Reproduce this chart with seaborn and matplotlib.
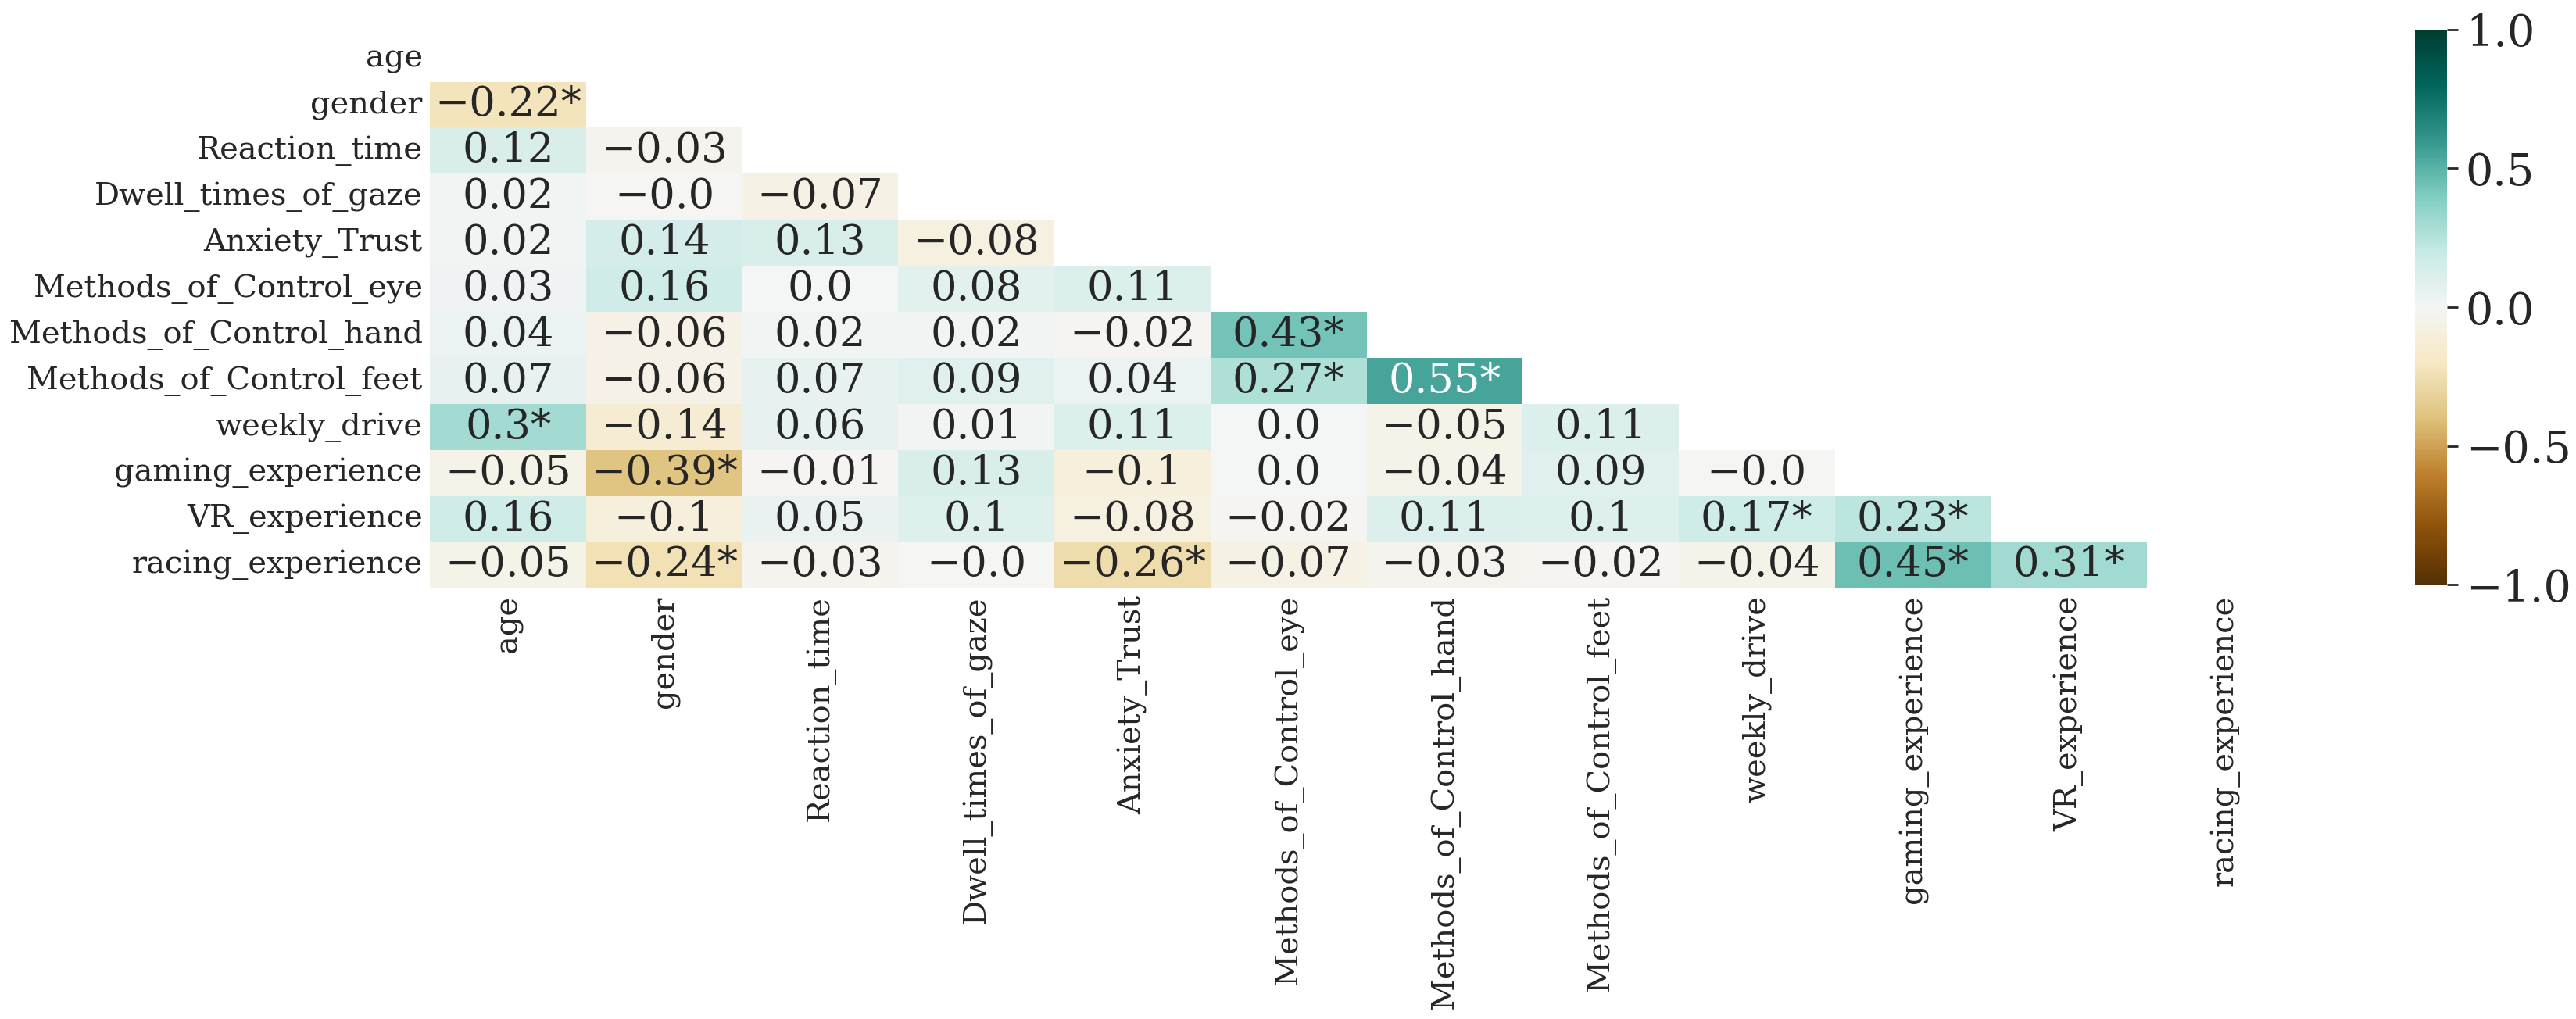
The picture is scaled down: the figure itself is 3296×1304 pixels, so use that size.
import numpy as np
import pandas as pd
import matplotlib
matplotlib.use("Agg")
import matplotlib.pyplot as plt
import seaborn as sns

variables = ["age", "gender", "Reaction_time", "Dwell_times_of_gaze", "Anxiety_Trust",
             "Methods_of_Control_eye", "Methods_of_Control_hand", "Methods_of_Control_feet",
             "weekly_drive", "gaming_experience", "VR_experience", "racing_experience"]

# lower-triangle correlations, row by row (row i has i values)
r_gender = [-0.22]
r_reaction = [0.12, -0.03]
r_dwell = [0.02, -0.001, -0.07]
r_anxiety = [0.02, 0.14, 0.13, -0.08]
r_eye = [0.03, 0.16, 0.0, 0.08, 0.11]
r_hand = [0.04, -0.06, 0.02, 0.02, -0.02, 0.43]
r_feet = [0.07, -0.06, 0.07, 0.09, 0.04, 0.27, 0.55]
r_weekly = [0.3, -0.14, 0.06, 0.01, 0.11, 0.0, -0.05, 0.11]
r_gaming = [-0.05, -0.39, -0.01, 0.13, -0.1, 0.0, -0.04, 0.09, -0.001]
r_vr = [0.16, -0.1, 0.05, 0.1, -0.08, -0.02, 0.11, 0.1, 0.17, 0.23]
r_racing = [-0.05, -0.24, -0.03, -0.001, -0.26, -0.07, -0.03, -0.02, -0.04, 0.45, 0.31]

# significance flags (1 = marked with *)
s_gender = [1]
s_reaction = [0, 0]
s_dwell = [0, 0, 0]
s_anxiety = [0, 0, 0, 0]
s_eye = [0, 0, 0, 0, 0]
s_hand = [0, 0, 0, 0, 0, 1]
s_feet = [0, 0, 0, 0, 0, 1, 1]
s_weekly = [1, 0, 0, 0, 0, 0, 0, 0]
s_gaming = [0, 1, 0, 0, 0, 0, 0, 0, 0]
s_vr = [0, 0, 0, 0, 0, 0, 0, 0, 1, 1]
s_racing = [0, 1, 0, 0, 1, 0, 0, 0, 0, 1, 1]

rows = [[], r_gender, r_reaction, r_dwell, r_anxiety, r_eye, r_hand, r_feet,
        r_weekly, r_gaming, r_vr, r_racing]
sigs = [[], s_gender, s_reaction, s_dwell, s_anxiety, s_eye, s_hand, s_feet,
        s_weekly, s_gaming, s_vr, s_racing]

n = len(variables)
M = np.eye(n)
L = np.full((n, n), "", dtype=object)
for i in range(n):
    for j, v in enumerate(rows[i]):
        M[i, j] = v
        M[j, i] = v
        txt = str(round(v, 2)) if abs(v) >= 0.005 else ("-0.0" if v < 0 else "0.0")
        txt = txt.replace("-", "\u2212")
        if sigs[i][j]:
            txt += "*"
        L[i, j] = txt

corr = pd.DataFrame(M, index=variables, columns=variables)
mask = np.triu(np.ones((n, n), dtype=bool))

sns.set_theme(style="white")
plt.rcParams["font.family"] = ["DejaVu Serif"]

fig = plt.figure(figsize=(16.48, 6.52), dpi=200)
ax = fig.add_axes([0.167, 0.423, 0.727, 0.542])
cax = fig.add_axes([0.9375, 0.426, 0.0125, 0.545])

sns.heatmap(corr, mask=mask, cmap="BrBG", vmin=-1, vmax=1, center=0,
            annot=L, fmt="", annot_kws={"size": 19},
            ax=ax, cbar_ax=cax)

ax.tick_params(axis="both", length=0, labelsize=14.4)
ax.set_xticklabels(variables, rotation=90)
ax.set_yticklabels(variables, rotation=0)
cax.tick_params(labelsize=20, length=5, width=1.0, right=True)
cax.set_yticks([-1, -0.5, 0, 0.5, 1])

fig.savefig("out.png", dpi=200)
